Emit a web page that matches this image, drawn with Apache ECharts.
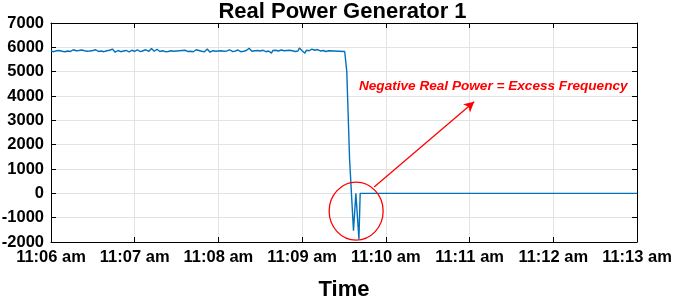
<!DOCTYPE html>
<html><head><meta charset="utf-8">
<script src="https://cdn.jsdelivr.net/npm/echarts@6/dist/echarts.min.js"></script>
<style>html,body{margin:0;padding:0;background:#fff}#c{width:685px;height:299px}</style>
</head><body><div id="c"></div>
<script>
// seconds since 11:06 am
const xTickLabels = ['11:06 am','11:07 am','11:08 am','11:09 am','11:10 am','11:11 am','11:12 am','11:13 am'];
const yTicks = [-2000,-1000,0,1000,2000,3000,4000,5000,6000,7000];
// steady-state real power, one reading per second from 11:06:00
const steadyPower = [
5850,5880,5820,5900,5860,5790,5870,5910,5840,5860,5820,5890,5850,5870,5830,5880,5900,5840,5860,5810,
5870,5850,5890,5830,5860,5880,5840,5910,5850,5820,5870,5860,5900,5840,5830,5880,5850,5870,5820,5890,
5860,5840,5880,5850,5930,5860,5800,5850,5870,5840,5820,5860,5850,5830,5870,5840,5810,5860,5880,5850,
5830,5870,5900,5850,5820,5880,5860,5840,5900,5870,5830,5860,5950,5880,5840,5870,5920,5850,5830,5880,
5860,5840,5820,5850,5830,5870,5860,5810,5840,5830,5850,5820,5860,5840,5870,5950,5880,5850,5830,5860,
5840,5880,5820,5850,5900,5830,5870,5850,5840,5890,5820,5870,5930,5850,5800,5880,5860,5910,5840,5870,
5850,5830,5860,5880,5840,5870,5850,5820,5900,5860,5830,5880,5840,5870,5890,5850,5820,5860,5840,5880,
5870,5850,5960,5890,5840,5880,5860,5830,5870,5900,5850,5840,5880,5860,5820,5870,5850,5900,5760,5870,
5840,5880,5920,5850,5830,5890,5840,5860,5930,5870,5850,5880,5840,5860,5870,5830,5880,5850,5970,5890,
5860,5900,5760,5880,5950,5860,5900,5930,5850,5880,5840,5910,5870,5850,5890,5870,5850,5830,5890,5860,
5870
];
// readings during and after the trip
const tripTimes = [210.5, 212, 214, 216.8, 218.5, 219.5, 220.7, 221.6, 420];
const tripPower = [5830, 5000, 1400, -1540, 0, 0, -1880, 0, 0];
// annotation anchors in data space
const circleCenter = [218.7, -730];
const arrowFrom = [231.6, 260];
const arrowTo = [303.3, 3760];
const noteAt = [317, 4420];
const noteText = 'Negative Real Power = Excess Frequency';

const data = steadyPower.map((v, i) => [i, v]).concat(tripTimes.map((t, i) => [t, tripPower[i]]));
const FONT = '"Liberation Sans", Arial, Helvetica, sans-serif';
const fmtX = v => { const i = Math.round(v / 60); return xTickLabels[i] !== undefined && Math.abs(v - i*60) < 1e-6 ? xTickLabels[i] : ''; };
const fmtY = v => String(v);

const chart = echarts.init(document.getElementById('c'), null, {renderer: 'canvas'});
const tickStyle = {show: true, inside: true, length: 5, lineStyle: {color: '#000', width: 1}};
chart.setOption({
  animation: false,
  title: {text: 'Real Power Generator 1', left: 'center', top: -4,
    textStyle: {fontFamily: FONT, fontWeight: 'bold', fontSize: 22, color: '#000'}},
  grid: {left: 51, right: 48, top: 23, bottom: 57, containLabel: false, outerBoundsMode: 'none'},
  xAxis: [{
    type: 'value', min: 0, max: 420, interval: 60,
    name: 'Time', nameLocation: 'middle', nameGap: 37,
    nameTextStyle: {fontFamily: FONT, fontWeight: 'bold', fontSize: 22, color: '#000'},
    axisLine: {show: true, onZero: false, lineStyle: {color: '#000', width: 1}},
    axisTick: tickStyle,
    axisLabel: {formatter: fmtX, fontFamily: FONT, fontWeight: 'bold', fontSize: 16.5, color: '#000', margin: 7},
    splitLine: {show: true, lineStyle: {color: '#e3e3e3', width: 1}}
  }, {
    type: 'value', position: 'top', min: 0, max: 420, interval: 60,
    axisLine: {show: true, onZero: false, lineStyle: {color: '#000', width: 1}},
    axisTick: tickStyle, axisLabel: {show: false}, splitLine: {show: false}
  }],
  yAxis: [{
    type: 'value', min: yTicks[0], max: yTicks[yTicks.length-1], interval: 1000,
    axisLine: {show: true, onZero: false, lineStyle: {color: '#000', width: 1}},
    axisTick: tickStyle,
    axisLabel: {formatter: fmtY, fontFamily: FONT, fontWeight: 'bold', fontSize: 16.5, color: '#000', margin: 7},
    splitLine: {show: true, lineStyle: {color: '#e3e3e3', width: 1}}
  }, {
    type: 'value', position: 'right', min: yTicks[0], max: yTicks[yTicks.length-1], interval: 1000,
    axisLine: {show: true, onZero: false, lineStyle: {color: '#000', width: 1}},
    axisTick: tickStyle, axisLabel: {show: false}, splitLine: {show: false}
  }],
  series: [{
    type: 'line', data: data, showSymbol: false, symbol: 'none',
    lineStyle: {color: '#0072BD', width: 1.4}, z: 3
  }, {
    type: 'line', data: [], markLine: {
      silent: true, symbol: ['none', 'arrow'], symbolSize: [8, 10],
      lineStyle: {color: '#ff0000', width: 1.3, type: 'solid'}, label: {show: false},
      data: [[{coord: arrowFrom}, {coord: arrowTo}]]
    }
  }]
});

const c = chart.convertToPixel({xAxisIndex: 0, yAxisIndex: 0}, circleCenter);
const n = chart.convertToPixel({xAxisIndex: 0, yAxisIndex: 0}, noteAt);
chart.setOption({graphic: [
  {type: 'ellipse', shape: {cx: c[0], cy: c[1], rx: 27, ry: 29},
   style: {fill: 'none', stroke: '#ff0000', lineWidth: 1.3}, z: 10},
  {type: 'text', x: n[0], y: n[1], style: {text: noteText, fill: '#ff0000',
   font: 'italic bold 13.6px ' + FONT, textAlign: 'center', textVerticalAlign: 'middle'}, z: 10}
]});
</script></body></html>
